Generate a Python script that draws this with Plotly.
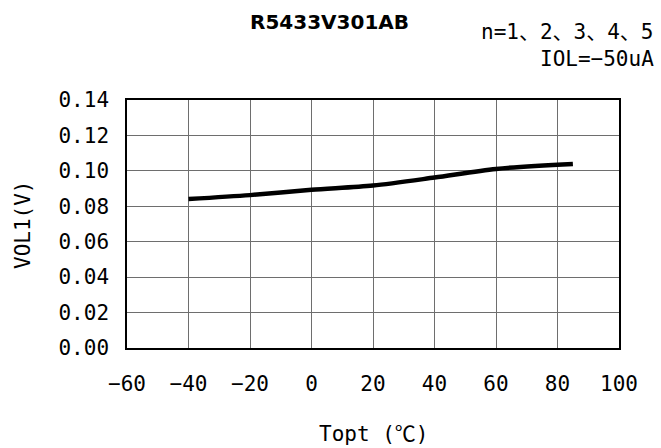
import plotly.graph_objects as go

temps = [-40, -20, 0, 20, 40, 60, 85]
vol1 = [0.0841, 0.0863, 0.0893, 0.0917, 0.0962, 0.1011, 0.1039]

x_ticks = [-60, -40, -20, 0, 20, 40, 60, 80, 100]
y_ticks = [0.00, 0.02, 0.04, 0.06, 0.08, 0.10, 0.12, 0.14]
y_tick_text = ["0.00", "0.02", "0.04", "0.06", "0.08", "0.10", "0.12", "0.14"]

title_text = "R5433V301AB"
cond1 = "n=1、2、3、4、5"
cond2 = "IOL=−50uA"
x_title = "Topt (℃)"
y_title = "VOL1(V)"

MONO = "DejaVu Sans Mono, Noto Sans CJK JP"

W, H = 661, 448
L, R, T, B = 127, 42, 100, 100
pw, ph = W - L - R, H - T - B

def px(x):
    return (x - L) / pw

def py(y):
    return (H - B - y) / ph

fig = go.Figure()
fig.add_trace(go.Scatter(
    x=temps, y=vol1, mode="lines",
    line=dict(color="black", width=4.5, shape="spline", smoothing=0.8),
    showlegend=False, hoverinfo="skip",
))

fig.update_layout(
    width=W, height=H,
    margin=dict(l=L, r=R, t=T, b=B, pad=0),
    paper_bgcolor="white", plot_bgcolor="white",
    font=dict(family=MONO, size=21, color="black"),
    xaxis=dict(
        range=[-60, 100], tickmode="array", tickvals=x_ticks,
        showgrid=True, gridcolor="#6e6e6e", gridwidth=1,
        showline=True, linecolor="black", linewidth=1.5, mirror=True,
        ticks="", ticklabelstandoff=16, zeroline=False,
        tickfont=dict(family=MONO, size=21),
    ),
    yaxis=dict(
        range=[0, 0.14], tickmode="array", tickvals=y_ticks, ticktext=y_tick_text,
        showgrid=True, gridcolor="#6e6e6e", gridwidth=1,
        showline=True, linecolor="black", linewidth=1.5, mirror=True,
        ticks="", ticklabelstandoff=12, zeroline=False,
        tickfont=dict(family=MONO, size=21),
    ),
    annotations=[
        dict(text="<b>" + title_text + "</b>", x=px(329), y=py(22), xref="paper", yref="paper",
             xanchor="center", yanchor="middle", showarrow=False,
             font=dict(family="DejaVu Sans", size=20, color="black")),
        dict(text=cond1, x=px(656), y=py(32), xref="paper", yref="paper",
             xanchor="right", yanchor="middle", showarrow=False,
             font=dict(family=MONO, size=21)),
        dict(text=cond2, x=px(656), y=py(59), xref="paper", yref="paper",
             xanchor="right", yanchor="middle", showarrow=False,
             font=dict(family=MONO, size=21)),
        dict(text=x_title, x=px(374), y=py(434), xref="paper", yref="paper",
             xanchor="center", yanchor="middle", showarrow=False,
             font=dict(family=MONO, size=21)),
        dict(text=y_title, x=px(23), y=py(225), xref="paper", yref="paper",
             xanchor="center", yanchor="middle", showarrow=False, textangle=-90,
             font=dict(family=MONO, size=21)),
    ],
)

fig.write_html("out.html", config={"displayModeBar": False},
               post_script="document.body.style.margin='0';")
